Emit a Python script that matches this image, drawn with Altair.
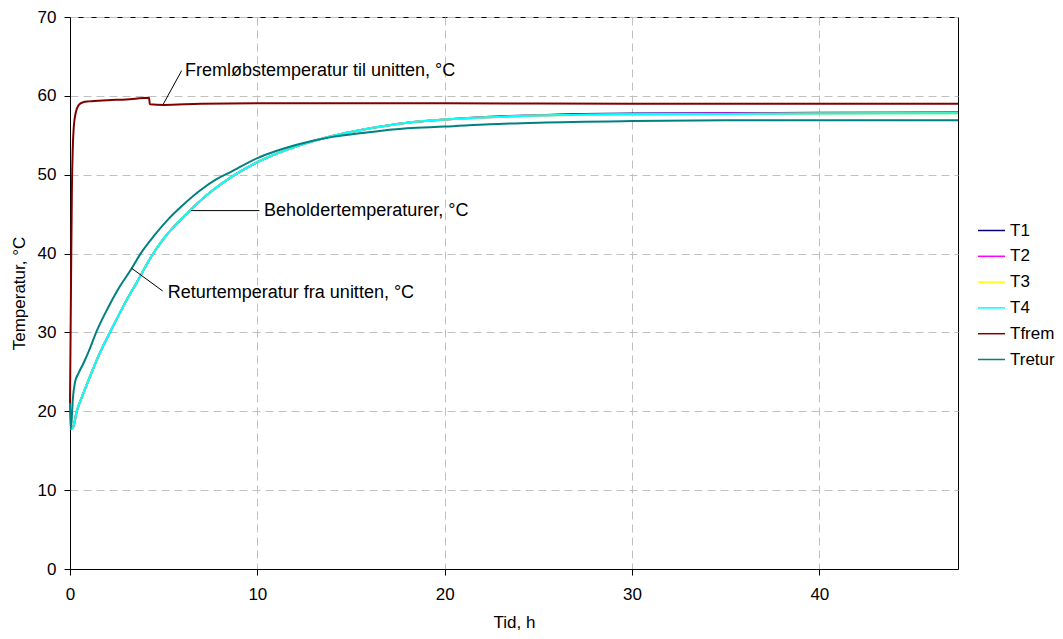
import altair as alt
import pandas as pd

# ---- data ----
tank_time = [0, 0.15, 0.36, 0.7, 1.0, 1.5, 2.22, 3.0, 3.6, 4.36, 5.0, 5.7, 6.46, 7.5,
             8.54, 10, 12.1, 14, 15.6, 18, 20, 22.4, 25, 30, 35, 40, 47.4]
t1 = [17.7, 17.9, 20.0, 22.2, 24.0, 26.9, 30.4, 34.0, 36.5, 39.7, 41.9, 43.8, 45.6, 47.8,
      49.6, 51.6, 53.6, 54.9, 55.7, 56.6, 57.0, 57.35, 57.55, 57.75, 57.8, 57.85, 57.9]
t2 = [17.8, 17.9, 20.0, 22.2, 24.0, 26.9, 30.4, 34.0, 36.5, 39.7, 41.9, 43.8, 45.6, 47.8,
      49.6, 51.6, 53.6, 54.9, 55.7, 56.6, 57.0, 57.3, 57.5, 57.7, 57.75, 57.8, 57.85]
t3 = [17.8, 17.9, 20.0, 22.2, 24.0, 26.9, 30.4, 34.0, 36.5, 39.7, 41.9, 43.8, 45.6, 47.8,
      49.6, 51.6, 53.6, 54.9, 55.7, 56.6, 57.0, 57.3, 57.5, 57.65, 57.7, 57.75, 57.8]
t4 = [17.8, 17.9, 20.0, 22.2, 24.0, 26.9, 30.4, 34.0, 36.5, 39.7, 41.9, 43.8, 45.6, 47.8,
      49.6, 51.6, 53.6, 54.9, 55.7, 56.6, 57.0, 57.3, 57.5, 57.65, 57.7, 57.75, 57.8]

frem_time = [0, 0.05, 0.1, 0.15, 0.2, 0.3, 0.45, 0.7, 1.0, 2.0, 3.0, 4.22, 4.26, 5.0,
             7.0, 10, 15, 20, 30, 40, 47.4]
tfrem = [21.0, 35.0, 48.0, 53.5, 56.0, 57.8, 58.8, 59.2, 59.3, 59.45, 59.55, 59.75, 58.95,
         58.85, 59.0, 59.05, 59.05, 59.05, 59.0, 59.0, 59.0]

retur_time = [0, 0.03, 0.08, 0.15, 0.27, 0.45, 0.7, 1.0, 1.43, 2.0, 2.6, 3.29, 3.74, 4.5,
              5.3, 6.0, 6.94, 7.8, 8.54, 10, 11, 12.1, 14, 15.6, 18, 20, 22.4, 25, 30, 35,
              40, 47.4]
tretur = [21.0, 17.8, 18.6, 21.5, 23.7, 24.8, 26.0, 27.6, 30.2, 33.0, 35.6, 38.1, 39.9,
          42.3, 44.5, 46.1, 48.0, 49.4, 50.3, 52.1, 53.0, 53.8, 54.8, 55.3, 55.9, 56.1,
          56.4, 56.6, 56.8, 56.9, 56.9, 56.9]

series_names = ["T1", "T2", "T3", "T4", "Tfrem", "Tretur"]
series_colors = ["#000080", "#FF00FF", "#FFFF00", "#00FFFF", "#800000", "#008080"]

ann_texts = ["Fremløbstemperatur til unitten, °C", "Beholdertemperaturer, °C",
             "Returtemperatur fra unitten, °C"]
ann_x = [6.14, 10.36, 5.22]
ann_y = [63.15, 45.4, 35.05]
lead_x = [5.96, 6.46, 3.29]
lead_y = [63.2, 45.45, 38.14]
lead_x2 = [4.98, 10.11, 4.95]
lead_y2 = [58.95, 45.45, 35.25]

x_ticks = [0, 10, 20, 30, 40]
y_ticks = [0, 10, 20, 30, 40, 50, 60, 70]

# ---- build table ----
rows = []
for name, tt, vv in [("T1", tank_time, t1), ("T2", tank_time, t2), ("T3", tank_time, t3),
                     ("T4", tank_time, t4), ("Tfrem", frem_time, tfrem),
                     ("Tretur", retur_time, tretur)]:
    for i, (a, b) in enumerate(zip(tt, vv)):
        rows.append({"Tid": a, "Temp": b, "Serie": name, "i": i})
df = pd.DataFrame(rows)
ann = pd.DataFrame({"text": ann_texts, "x": ann_x, "y": ann_y})
lead = pd.DataFrame({"x": lead_x, "y": lead_y, "x2": lead_x2, "y2": lead_y2})

FONT = "Liberation Sans"
FS = 17

xscale = alt.Scale(domain=[0, 47.4], nice=False, zero=False)
yscale = alt.Scale(domain=[0, 70], nice=False)

lines = alt.Chart(df).mark_line(strokeWidth=2, interpolate="monotone").encode(
    x=alt.X("Tid:Q", scale=xscale,
            axis=alt.Axis(title="Tid, h", values=x_ticks, labelFlush=False,
                          tickSize=6, labelPadding=11, titlePadding=12)),
    y=alt.Y("Temp:Q", scale=yscale,
            axis=alt.Axis(title="Temperatur, °C", values=y_ticks, tickSize=6,
                          labelPadding=8, titlePadding=9)),
    color=alt.Color("Serie:N",
                    scale=alt.Scale(domain=series_names, range=series_colors),
                    legend=alt.Legend(title=None, orient="none", legendX=907,
                                      legendY=199, symbolType="stroke",
                                      symbolSize=729, symbolStrokeWidth=1.5,
                                      labelFontSize=FS, labelFont=FONT,
                                      labelOffset=4, rowPadding=2.8, padding=0,
                                      labelColor="black")),
    order="i:Q",
)

leaders = alt.Chart(lead).mark_rule(color="black", strokeWidth=1).encode(
    x="x:Q", y="y:Q", x2="x2:Q", y2="y2:Q")

texts = alt.Chart(ann).mark_text(align="left", baseline="middle", font=FONT,
                                 fontSize=18, color="black").encode(
    x="x:Q", y="y:Q", text="text:N")

chart = alt.layer(lines, leaders, texts).properties(
    width=888, height=552,
    autosize=alt.AutoSizeParams(type="none"),
    padding={"left": 62, "top": 9, "right": 97, "bottom": 62},
).configure_view(stroke="black", strokeWidth=1).configure_axis(
    labelFont=FONT, titleFont=FONT, labelFontSize=FS, titleFontSize=FS,
    titleFontWeight="normal", labelColor="black", titleColor="black",
    domainColor="black", tickColor="black", gridColor="#c0c0c0",
    gridDash=[8, 5], grid=True,
)

chart.save("out.html", embed_options={"renderer": "svg", "actions": False})
